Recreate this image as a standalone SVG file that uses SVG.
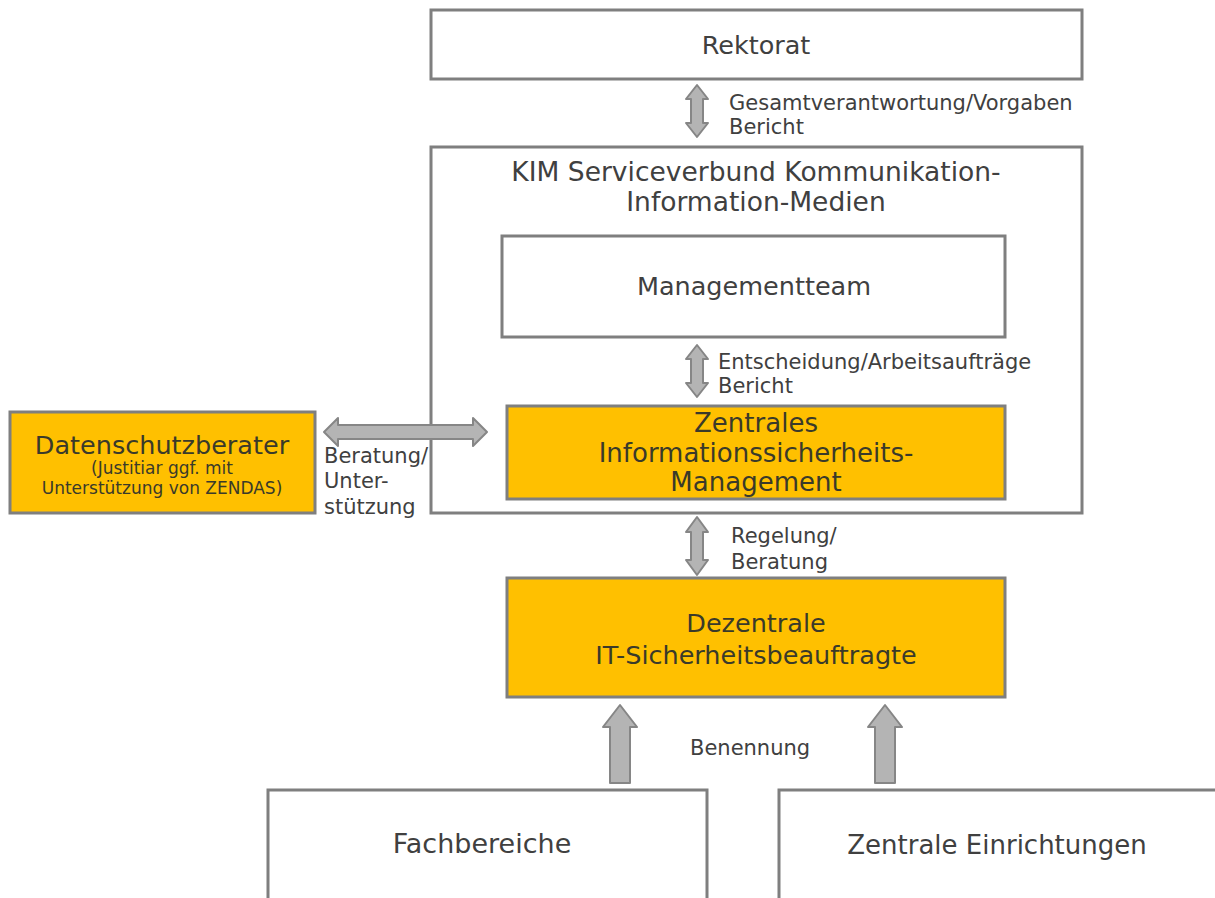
<svg xmlns="http://www.w3.org/2000/svg" width="1215" height="898" viewBox="0 0 1215 898">
<style>
.box{fill:#ffffff;stroke:#7f7f7f;stroke-width:3}
.org{fill:#ffc000;stroke:#7f7f7f;stroke-width:3}
.arr{fill:#b4b4b4;stroke:#868686;stroke-width:2;stroke-linejoin:round}
text{font-family:"DejaVu Sans","Liberation Sans",sans-serif;fill:#404040}
.t{text-anchor:middle}
.ot{text-anchor:middle;fill:#3a3a2a}
.l{font-size:21px}
.s{font-size:17px;text-anchor:middle;fill:#3a3a2a}
</style>
<rect width="1215" height="898" fill="#ffffff"/>
<g id="kim">
  <rect class="box" x="431" y="147" width="651" height="366"/>
  <text class="t" x="756" y="181" font-size="26.5">KIM Serviceverbund Kommunikation-</text>
  <text class="t" x="756" y="211" font-size="26.5">Information-Medien</text>
</g>
<g id="connectors">
  <path class="arr" d="M697,85 L708,99 L703,99 L703,123 L708,123 L697,137 L686,123 L691,123 L691,99 L686,99 Z"/>
  <path class="arr" d="M697,345 L708,359 L703,359 L703,383 L708,383 L697,397 L686,383 L691,383 L691,359 L686,359 Z"/>
  <path class="arr" d="M697,517 L708,532 L703,532 L703,560 L708,560 L697,575 L686,560 L691,560 L691,532 L686,532 Z"/>
  <path class="arr" d="M324,432 L338,418 L338,425 L473,425 L473,418 L487,432 L473,446 L473,439 L338,439 L338,446 Z"/>
  <path class="arr" d="M620,705 L637,727 L630,727 L630,783 L610,783 L610,727 L603,727 Z"/>
  <path class="arr" d="M885,705 L902,727 L895,727 L895,783 L875,783 L875,727 L868,727 Z"/>
</g>
<g id="rektorat">
  <rect class="box" x="431" y="10" width="651" height="69"/>
  <text class="t" x="756" y="54" font-size="25.5">Rektorat</text>
</g>
<g id="label-gesamt">
  <text class="l" x="729" y="110">Gesamtverantwortung/Vorgaben</text>
  <text class="l" x="729" y="134">Bericht</text>
</g>
<g id="managementteam">
  <rect class="box" x="502" y="236" width="503" height="101"/>
  <text class="t" x="754" y="295" font-size="25.5">Managementteam</text>
</g>
<g id="label-entscheidung">
  <text class="l" x="718" y="369">Entscheidung/Arbeitsaufträge</text>
  <text class="l" x="718" y="393">Bericht</text>
</g>
<g id="zism">
  <rect class="org" x="507" y="406" width="498" height="93"/>
  <text class="ot" x="756" y="432" font-size="26">Zentrales</text>
  <text class="ot" x="756" y="462" font-size="26">Informationssicherheits-</text>
  <text class="ot" x="756" y="491" font-size="26">Management</text>
</g>
<g id="datenschutz">
  <rect class="org" x="10" y="412" width="305" height="101"/>
  <text class="ot" x="162" y="454" font-size="25.5">Datenschutzberater</text>
  <text class="s" x="162" y="474">(Justitiar ggf. mit</text>
  <text class="s" x="162" y="494">Unterstützung von ZENDAS)</text>
</g>
<g id="label-beratung">
  <text class="l" x="324" y="463">Beratung/</text>
  <text class="l" x="324" y="488">Unter-</text>
  <text class="l" x="324" y="514">stützung</text>
</g>
<g id="label-regelung">
  <text class="l" x="731" y="543">Regelung/</text>
  <text class="l" x="731" y="569">Beratung</text>
</g>
<g id="dezentrale">
  <rect class="org" x="507" y="578" width="498" height="119"/>
  <text class="ot" x="756" y="632" font-size="25.5">Dezentrale</text>
  <text class="ot" x="756" y="664" font-size="25.5">IT-Sicherheitsbeauftragte</text>
</g>
<g id="label-benennung">
  <text class="l" x="690" y="755">Benennung</text>
</g>
<g id="fachbereiche">
  <rect class="box" x="268" y="790" width="439" height="120"/>
  <text class="t" x="482" y="853" font-size="27">Fachbereiche</text>
</g>
<g id="zentrale-einrichtungen">
  <rect class="box" x="779" y="790" width="460" height="120"/>
  <text class="t" x="997" y="854" font-size="26">Zentrale Einrichtungen</text>
</g>
</svg>
